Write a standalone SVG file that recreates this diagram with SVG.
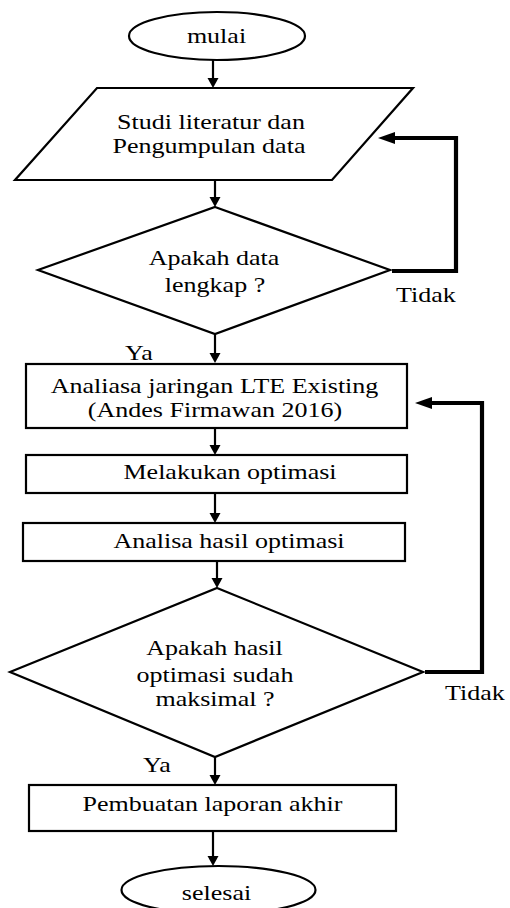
<svg xmlns="http://www.w3.org/2000/svg" width="510" height="908" viewBox="0 0 510 908">
<style>
.s{fill:#fff;stroke:#000;stroke-width:2.2;stroke-linejoin:miter}
.t{font-family:'Liberation Serif','Tinos','DejaVu Serif','Noto Serif',serif;font-size:21.5px;fill:#000;text-anchor:middle}
.l{font-family:'Liberation Serif','Tinos','DejaVu Serif','Noto Serif',serif;font-size:21.5px;fill:#000}
.c{fill:none;stroke:#000;stroke-width:2.2}
.b{fill:none;stroke:#000;stroke-width:4.2;stroke-linejoin:miter}
</style>
<defs>
<marker id="a" markerUnits="userSpaceOnUse" markerWidth="11" markerHeight="12" refX="5" refY="5.5" orient="auto"><path d="M0,0 L10,5.5 L0,11 z" fill="#000"/></marker>
<marker id="ab" markerUnits="userSpaceOnUse" markerWidth="18" markerHeight="13" refX="7" refY="6" orient="auto"><path d="M0,0 L17,6 L0,12 z" fill="#000"/></marker>
</defs>
<rect width="510" height="908" fill="#fff"/>
<g id="connectors">
<path class="c" d="M213,60 V83" marker-end="url(#a)"/>
<path class="c" d="M215,180 V202" marker-end="url(#a)"/>
<path class="c" d="M215,334 V358" marker-end="url(#a)"/>
<path class="c" d="M215,428 V450" marker-end="url(#a)"/>
<path class="c" d="M215,493 V518" marker-end="url(#a)"/>
<path class="c" d="M217,561 V583" marker-end="url(#a)"/>
<path class="c" d="M215,757 V780" marker-end="url(#a)"/>
<path class="c" d="M213,831 V861" marker-end="url(#a)"/>
<path class="b" d="M392,271 H456 V138 H388" marker-end="url(#ab)"/>
<path class="b" d="M425,672 H482 V403 H425" marker-end="url(#ab)"/>
<text class="l" font-family="Liberation Serif, serif" transform="translate(396,302) scale(1.21,1)">Tidak</text>
<text class="l" font-family="Liberation Serif, serif" transform="translate(125,360) scale(1.21,1)">Ya</text>
<text class="l" font-family="Liberation Serif, serif" transform="translate(445,700) scale(1.21,1)">Tidak</text>
<text class="l" font-family="Liberation Serif, serif" transform="translate(143,772) scale(1.21,1)">Ya</text>
</g>
<g id="mulai">
<ellipse class="s" cx="217" cy="36" rx="88" ry="24"/>
<text class="t" transform="translate(216.5,43) scale(1.21,1)">mulai</text>
</g>
<g id="studi">
<polygon class="s" points="97,88 413,88 332,180 15,180"/>
<text class="t" transform="translate(211,129) scale(1.21,1)">Studi literatur dan</text>
<text class="t" transform="translate(209,153) scale(1.21,1)">Pengumpulan data</text>
</g>
<g id="cek-data">
<polygon class="s" points="215,207 390,270 215,334 38,270"/>
<text class="t" transform="translate(214,265) scale(1.21,1)">Apakah data</text>
<text class="t" transform="translate(215,292) scale(1.21,1)">lengkap ?</text>
</g>
<g id="analisa-lte">
<rect class="s" x="26" y="364" width="381" height="64"/>
<text class="t" transform="translate(214.5,393) scale(1.21,1)">Analiasa jaringan LTE Existing</text>
<text class="t" transform="translate(215,417) scale(1.21,1)">(Andes Firmawan 2016)</text>
</g>
<g id="optimasi">
<rect class="s" x="26" y="455" width="381" height="38"/>
<text class="t" transform="translate(230,479) scale(1.21,1)">Melakukan optimasi</text>
</g>
<g id="analisa-hasil">
<rect class="s" x="23" y="523" width="382" height="38"/>
<text class="t" transform="translate(229,548) scale(1.21,1)">Analisa hasil optimasi</text>
</g>
<g id="cek-maksimal">
<polygon class="s" points="217,588 423,672 215,757 10,672"/>
<text class="t" transform="translate(214.5,655) scale(1.21,1)">Apakah hasil</text>
<text class="t" transform="translate(215,682) scale(1.21,1)">optimasi sudah</text>
<text class="t" transform="translate(215,706) scale(1.21,1)">maksimal ?</text>
</g>
<g id="laporan">
<rect class="s" x="29" y="785" width="367" height="46"/>
<text class="t" transform="translate(212.5,811) scale(1.21,1)">Pembuatan laporan akhir</text>
</g>
<g id="selesai">
<ellipse class="s" cx="218.5" cy="890" rx="97" ry="24"/>
<text class="t" transform="translate(216.5,900) scale(1.21,1)">selesai</text>
</g>
</svg>
